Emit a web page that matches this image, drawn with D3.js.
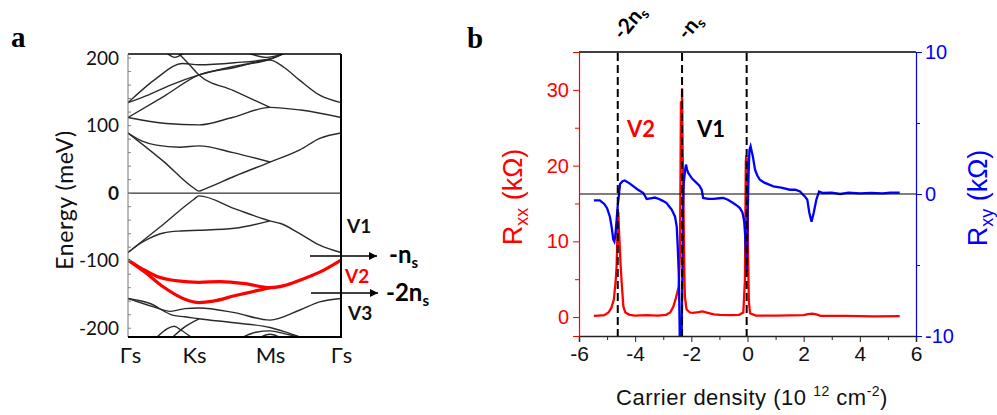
<!DOCTYPE html>
<html><head><meta charset="utf-8">
<script src="https://cdn.jsdelivr.net/npm/d3@7"></script>
<style>body{margin:0;background:#fff}svg{display:block}</style>
</head><body>
<svg id="c" width="997" height="415"></svg>
<script>
// ---------- Panel a data: band structure (k path index, energy meV) ----------
const kLabels = ["Γs", "Ks", "Ms", "Γs"];
const kTicks = [0, 1, 2, 3];
const energyTicks = [-200, -100, 0, 100, 200];

const bandC1 = [[0,89],[0.5,47],[0.92,8],[1,3],[1.08,6],[1.5,25],[2,46],[2.42,64],[2.7,81],[3,89]];
const bandC2 = [[0,89],[0.2,77],[0.4,71],[0.73,68],[1,70],[1.48,60],[2,46]];
const bandC3 = [[0,112],[0.54,103],[1,101],[1.47,112],[2,127],[2.43,123],[3,112]];
const bandC4 = [[0.72,206],[0.85,192],[1,175],[1.48,152],[2,127]];
const bandC5 = [[0,112],[0.5,143],[1,175],[1.5,186],[2,197],[2.2,186],[2.42,167],[2.7,145],[3,134]];
const bandC6 = [[0,134],[0.3,146],[0.6,160],[1,175],[1.5,188],[2,198],[2.2,207]];
const bandC7 = [[0,134],[0.4,170],[0.77,192],[1,190],[1.5,193],[2,199],[2.2,207]];
const bandC8 = [[0.55,207],[0.66,201],[0.78,207]];
const bandC9 = [[1.7,207],[1.95,201],[2.2,207]];
const bandV1a = [[0,-88],[0.5,-46],[0.93,-9],[1,-4],[1.5,-23],[2,-41],[2.15,-45],[2.42,-60],[2.7,-77],[3,-88]];
const bandV1b = [[0,-88],[0.15,-76],[0.3,-67],[0.5,-59],[0.75,-56],[1,-55],[1.5,-52],[2,-41]];
const bandV2a = [[0,-99],[0.2,-112],[0.4,-123],[0.7,-130],[1,-132],[1.3,-131],[1.65,-134],[2,-140],[2.2,-137],[2.42,-129],[2.7,-117],[3,-99]];
const bandV2b = [[0,-99],[0.25,-118],[0.5,-139],[0.8,-157],[1,-162],[1.2,-160],[1.5,-152],[2,-140]];
const bandV3a = [[0,-156],[0.3,-163],[0.64,-181],[0.8,-183],[1,-186],[1.5,-192],[2,-199],[2.2,-205],[2.45,-214]];
const bandV3b = [[0,-156],[0.35,-168],[0.6,-175],[0.8,-171],[1,-170],[1.5,-177],[2,-188],[2.42,-173],[2.7,-161],[3,-156]];
const bandV4a = [[0.4,-214],[0.55,-201],[0.65,-197],[0.75,-203],[0.9,-214]];
const bandV4b = [[0.62,-214],[0.8,-198],[1,-186]];
const bandV4c = [[1.6,-214],[1.8,-206],[2,-204],[2.2,-208],[2.45,-214]];
const bandV4d = [[1.85,-214],[2,-209],[2.15,-214]];

const blackBands = [bandC1,bandC2,bandC3,bandC4,bandC5,bandC6,bandC7,bandC8,bandC9,
                    bandV1a,bandV1b,bandV3a,bandV3b,bandV4a,bandV4b,bandV4c,bandV4d];
const redBands = [bandV2a, bandV2b];

// ---------- Panel b data: transport ----------
const densityTicks = [-6,-4,-2,0,2,4,6];
const rxxTicks = [0,10,20,30];
const rxyTicks = [-10,0,10];
const dashedDensities = [-4.62,-2.33,-0.03];

const rxxDensity = [-5.47,-5.3,-5.1,-4.95,-4.85,-4.76,-4.7,-4.66,-4.63,-4.6,-4.57,-4.52,-4.48,-4.42,-4.35,-4.2,-4.0,-3.6,-3.2,-2.9,-2.75,-2.64,-2.55,-2.45,-2.41,-2.39,-2.37,-2.35,-2.33,-2.31,-2.29,-2.27,-2.25,-2.23,-2.17,-2.05,-1.94,-1.75,-1.6,-1.45,-1.2,-0.98,-0.6,-0.3,-0.15,-0.09,-0.06,-0.04,-0.02,0.0,0.02,0.05,0.09,0.3,1.0,2.0,2.15,2.3,2.45,2.6,3.5,4.5,5.42];
const rxxValues  = [0.15,0.2,0.25,0.6,1.2,2.3,4.5,6.7,11,13.9,11,7,4.5,1.4,0.6,0.3,0.2,0.25,0.2,0.3,0.6,1.4,2.5,4,8,16,28.5,23,30.2,22,18,12,6,2.7,1.0,0.6,0.55,0.65,0.75,0.6,0.35,0.3,0.25,0.3,0.6,5,20.5,21.4,17,21,8,2,0.5,0.2,0.2,0.25,0.4,0.45,0.35,0.15,0.15,0.1,0.12];

const rxyDensity = [-5.47,-5.26,-5.1,-5.0,-4.9,-4.84,-4.78,-4.74,-4.7,-4.66,-4.62,-4.58,-4.54,-4.45,-4.37,-4.2,-4.07,-3.9,-3.71,-3.59,-3.45,-3.3,-3.15,-3.0,-2.88,-2.78,-2.7,-2.58,-2.52,-2.48,-2.44,-2.41,-2.35,-2.32,-2.3,-2.27,-2.22,-2.19,-2.15,-2.11,-1.98,-1.87,-1.72,-1.63,-1.58,-1.4,-1.22,-1.0,-0.86,-0.7,-0.51,-0.35,-0.27,-0.18,-0.12,-0.08,-0.05,-0.03,0.0,0.04,0.07,0.11,0.15,0.19,0.27,0.35,0.44,0.6,0.92,1.2,1.51,1.7,1.87,2.04,2.13,2.2,2.28,2.36,2.45,2.55,2.68,3.0,3.3,3.6,4.0,4.4,4.8,5.1,5.42];
const rxyValues  = [-0.45,-0.45,-0.7,-1.0,-1.6,-2.3,-3.2,-3.35,-2.8,-1.8,-0.8,-0.1,0.7,0.9,0.95,0.75,0.55,0.3,0.07,-0.35,-0.3,-0.25,-0.35,-0.5,-0.64,-0.9,-1.1,-1.6,-2.3,-3.9,-6,-10.5,-10.5,-6,-1,0.8,1.7,2.07,1.7,1.48,1.1,0.89,0.6,0.3,-0.28,-0.35,-0.35,-0.3,-0.28,-0.4,-0.64,-0.85,-0.99,-1.3,-1.9,-3.0,-4.4,-5.5,-2,1.5,3.1,3.36,3.0,2.65,1.7,1.3,1.0,0.8,0.54,0.45,0.3,0.3,0.18,-0.17,-0.4,-1.3,-1.95,-1.3,-0.4,0.18,0.07,0.1,0.0,0.1,0.05,0.08,0.05,0.1,0.1];

// ---------- drawing ----------
const svg = d3.select("#c");
svg.append("rect").attr("width",997).attr("height",415).attr("fill","#fff");
const fA = "Lato, 'Open Sans', sans-serif";
const fB = "'Liberation Sans', Arial, sans-serif";
const hyph = d => String(d);   // plain hyphen minus signs as in the original

// Panel a
const xA = d3.scaleLinear().domain([0,3]).range([128,341]);
const yA = d3.scaleLinear().domain([-213,206]).range([337,54]);
const defs = svg.append("defs");
defs.append("clipPath").attr("id","clipA").append("rect")
  .attr("x",xA(0)).attr("y",yA(206)).attr("width",xA(3)-xA(0)).attr("height",yA(-213)-yA(206));
const lineA = d3.line().x(d=>xA(d[0])).y(d=>yA(d[1])).curve(d3.curveMonotoneX);
const gA = svg.append("g");
const bandsG = gA.append("g").attr("clip-path","url(#clipA)");
bandsG.selectAll("path.bk").data(blackBands).join("path").attr("class","bk")
  .attr("d",lineA).attr("fill","none").attr("stroke","#2a2a2a").attr("stroke-width",1.4);
bandsG.selectAll("path.rd").data(redBands).join("path").attr("class","rd")
  .attr("d",lineA).attr("fill","none").attr("stroke","#ff0000").attr("stroke-width",3.2);
gA.append("line").attr("x1",xA(0)).attr("x2",xA(3)).attr("y1",yA(0)).attr("y2",yA(0))
  .attr("stroke","#000").attr("stroke-width",1);
const minorE = d3.range(-200,201,20);
gA.selectAll("line.mt").data(minorE).join("line").attr("class","mt")
  .attr("x1",xA(0)).attr("x2",xA(0)+3).attr("y1",d=>yA(d)).attr("y2",d=>yA(d))
  .attr("stroke","#888").attr("stroke-width",1);
gA.append("line").attr("x1",xA(0)).attr("x2",xA(3)).attr("y1",yA(206)).attr("y2",yA(206)).attr("stroke","#000").attr("stroke-width",1.5);
gA.append("line").attr("x1",xA(0)).attr("x2",xA(0)).attr("y1",yA(206)).attr("y2",yA(-213)).attr("stroke","#777").attr("stroke-width",1);
gA.append("line").attr("x1",xA(3)).attr("x2",xA(3)).attr("y1",yA(206)).attr("y2",yA(-213)).attr("stroke","#000").attr("stroke-width",2);
gA.append("line").attr("x1",xA(0)).attr("x2",xA(3)+1).attr("y1",yA(-213)).attr("y2",yA(-213)).attr("stroke","#000").attr("stroke-width",2);
const yAxisA = d3.axisLeft(yA).tickValues(energyTicks).tickFormat(hyph).tickSize(0).tickPadding(9);
const gyA = gA.append("g").attr("transform",`translate(${xA(0)},0)`).call(yAxisA);
gyA.select(".domain").remove();
gyA.selectAll("text").attr("font-family",fA).attr("font-size",19).attr("fill","#111")
  .attr("font-weight",d=>d===0?"bold":"normal");
const xAxisA = d3.axisBottom(xA).tickValues(kTicks).tickFormat((d,i)=>kLabels[i]).tickSize(0).tickPadding(10);
const gxA = gA.append("g").attr("transform",`translate(0,${yA(-213)})`).call(xAxisA);
gxA.select(".domain").remove();
gxA.selectAll("text").attr("font-family",fA).attr("font-size",22).attr("fill","#111")
  .attr("dx",d=>d===1?-5:(d===0?2:0));
gA.append("text").attr("transform",`translate(73,200) rotate(-90)`).attr("text-anchor","middle")
  .attr("font-family",fA).attr("font-size",23).attr("letter-spacing",0.6).attr("fill","#111").text("Energy (meV)");
svg.append("text").attr("x",11).attr("y",47).attr("font-family","'Liberation Serif','DejaVu Serif',serif")
  .attr("font-weight","bold").attr("font-size",29).text("a");
const ann = gA.append("g").attr("font-family",fA).attr("font-weight","bold");
ann.append("text").attr("x",347).attr("y",233).attr("font-size",19).attr("fill","#111").text("V1");
ann.append("text").attr("x",345).attr("y",283).attr("font-size",19).attr("fill","#ff0000").text("V2");
ann.append("text").attr("x",348).attr("y",320).attr("font-size",19).attr("fill","#111").text("V3");
defs.append("marker").attr("id","arr").attr("viewBox","0 0 10 10").attr("refX",10).attr("refY",5)
  .attr("markerWidth",10).attr("markerHeight",8).attr("markerUnits","userSpaceOnUse").attr("orient","auto")
  .append("path").attr("d","M0,0L10,5L0,10z").attr("fill","#000");
ann.append("line").attr("x1",310).attr("x2",377).attr("y1",256).attr("y2",256).attr("stroke","#000").attr("stroke-width",1.3).attr("marker-end","url(#arr)");
ann.append("line").attr("x1",311).attr("x2",378).attr("y1",293).attr("y2",293).attr("stroke","#000").attr("stroke-width",1.3).attr("marker-end","url(#arr)");
const t1 = ann.append("text").attr("x",389).attr("y",263).attr("font-size",24).attr("fill","#000");
t1.append("tspan").text("-n");
t1.append("tspan").attr("font-size",15).attr("dy",5).text("s");
const t2 = ann.append("text").attr("x",386).attr("y",301).attr("font-size",24).attr("fill","#000");
t2.append("tspan").text("-2n");
t2.append("tspan").attr("font-size",15).attr("dy",5).text("s");

// Panel b
const xB = d3.scaleLinear().domain([-6,6]).range([579,916]);
const yL = d3.scaleLinear().domain([-2.5,35]).range([336,52]);
const yR = d3.scaleLinear().domain([-10,10]).range([336,52]);
defs.append("clipPath").attr("id","clipB").append("rect")
  .attr("x",579).attr("y",52).attr("width",337).attr("height",284);
const gB = svg.append("g");
gB.append("line").attr("x1",579).attr("x2",916).attr("y1",52).attr("y2",52).attr("stroke","#000").attr("stroke-width",1.5);
const plotB = gB.append("g").attr("clip-path","url(#clipB)");
const rxxPts = rxxDensity.map((d,i)=>[d,rxxValues[i]]);
const rxyPts = rxyDensity.map((d,i)=>[d,rxyValues[i]]);
plotB.append("path").attr("d",d3.line().x(d=>xB(d[0])).y(d=>yL(d[1]))(rxxPts))
  .attr("fill","none").attr("stroke","#ff0000").attr("stroke-width",2.3);
plotB.append("path").attr("d",d3.line().x(d=>xB(d[0])).y(d=>yR(d[1]))(rxyPts))
  .attr("fill","none").attr("stroke","#0000ff").attr("stroke-width",2.3);
gB.append("line").attr("x1",579).attr("x2",916).attr("y1",yR(0)).attr("y2",yR(0)).attr("stroke","#000").attr("stroke-width",1.2);
gB.selectAll("line.dash").data(dashedDensities).join("line").attr("class","dash")
  .attr("x1",d=>xB(d)).attr("x2",d=>xB(d)).attr("y1",53).attr("y2",336)
  .attr("stroke","#000").attr("stroke-width",2).attr("stroke-dasharray","8,4");
const axB = d3.axisBottom(xB).tickValues(densityTicks).tickFormat(hyph).tickSize(6).tickPadding(4);
const gxB = gB.append("g").attr("transform","translate(0,336)").call(axB);
gxB.select(".domain").attr("stroke","#222").attr("stroke-width",1.5);
gxB.selectAll(".tick line").attr("stroke","#222");
gxB.selectAll("text").attr("font-family",fB).attr("font-size",21).attr("fill","#111");
gB.append("g").attr("transform","translate(0,336)")
  .call(d3.axisBottom(xB).tickValues([-5,-3,-1,1,3,5]).tickSize(4).tickFormat(""))
  .call(g=>{g.select(".domain").remove(); g.selectAll("line").attr("stroke","#222");});
const ayL = d3.axisLeft(yL).tickValues(rxxTicks).tickFormat(hyph).tickSize(6).tickPadding(4);
const gyL = gB.append("g").attr("transform","translate(579,0)").call(ayL);
gyL.select(".domain").attr("stroke","#ff0000").attr("stroke-width",1.2);
gyL.selectAll(".tick line").attr("stroke","#ff0000");
gyL.selectAll("text").attr("font-family",fB).attr("font-size",20).attr("fill","#ff0000");
gB.append("g").attr("transform","translate(579,0)")
  .call(d3.axisLeft(yL).tickValues([5,15,25]).tickSize(4).tickFormat(""))
  .call(g=>{g.select(".domain").remove(); g.selectAll("line").attr("stroke","#ff0000");});
const ayR = d3.axisRight(yR).tickValues(rxyTicks).tickFormat(hyph).tickSize(6).tickPadding(3);
const gyR = gB.append("g").attr("transform","translate(916,0)").call(ayR);
gyR.select(".domain").attr("stroke","#0000ff").attr("stroke-width",1.2);
gyR.selectAll(".tick line").attr("stroke","#0000ff");
gyR.selectAll("text").attr("font-family",fB).attr("font-size",20).attr("fill","#0000ff");
gB.append("g").attr("transform","translate(916,0)")
  .call(d3.axisRight(yR).tickValues([-5,5]).tickSize(4).tickFormat(""))
  .call(g=>{g.select(".domain").remove(); g.selectAll("line").attr("stroke","#0000ff");});
const xt = gB.append("text").attr("x",752).attr("y",405).attr("text-anchor","middle")
  .attr("font-family",fB).attr("font-size",22).attr("letter-spacing",0.5).attr("fill","#111");
xt.append("tspan").text("Carrier density (10 ");
xt.append("tspan").attr("font-size",14).attr("dy",-9).text("12");
xt.append("tspan").attr("dy",9).text(" cm");
xt.append("tspan").attr("font-size",14).attr("dy",-9).text("-2");
xt.append("tspan").attr("dy",9).text(")");
const ytL = gB.append("text").attr("transform","translate(522,197) rotate(-90)").attr("text-anchor","middle")
  .attr("font-family",fB).attr("font-size",27).attr("fill","#ff0000");
ytL.append("tspan").text("R");
ytL.append("tspan").attr("font-size",18).attr("dy",6).text("xx");
ytL.append("tspan").attr("dy",-6).text(" (kΩ)");
const ytR = gB.append("text").attr("transform","translate(987,198) rotate(-90)").attr("text-anchor","middle")
  .attr("font-family",fB).attr("font-size",27).attr("fill","#0000ff");
ytR.append("tspan").text("R");
ytR.append("tspan").attr("font-size",18).attr("dy",6).text("xy");
ytR.append("tspan").attr("dy",-6).text(" (kΩ)");
gB.append("text").attr("x",627).attr("y",137).attr("font-family",fA).attr("font-weight","bold")
  .attr("font-size",22).attr("fill","#ff0000").text("V2");
gB.append("text").attr("x",697).attr("y",137).attr("font-family",fA).attr("font-weight","bold")
  .attr("font-size",22).attr("fill","#000").text("V1");
const topLab = [{x:xB(dashedDensities[0]),t:"-2n"},{x:xB(dashedDensities[1]),t:"-n"}];
topLab.forEach(o=>{
  const tt = gB.append("text").attr("transform",`translate(${o.x+5},41) rotate(-50)`)
    .attr("font-family",fA).attr("font-weight","bold").attr("font-size",21).attr("fill","#000");
  tt.append("tspan").text(o.t);
  tt.append("tspan").attr("font-size",14).attr("dy",4).text("s");
});
svg.append("text").attr("x",467).attr("y",48).attr("font-family","'Liberation Serif','DejaVu Serif',serif")
  .attr("font-weight","bold").attr("font-size",29).text("b");
</script>
</body></html>
